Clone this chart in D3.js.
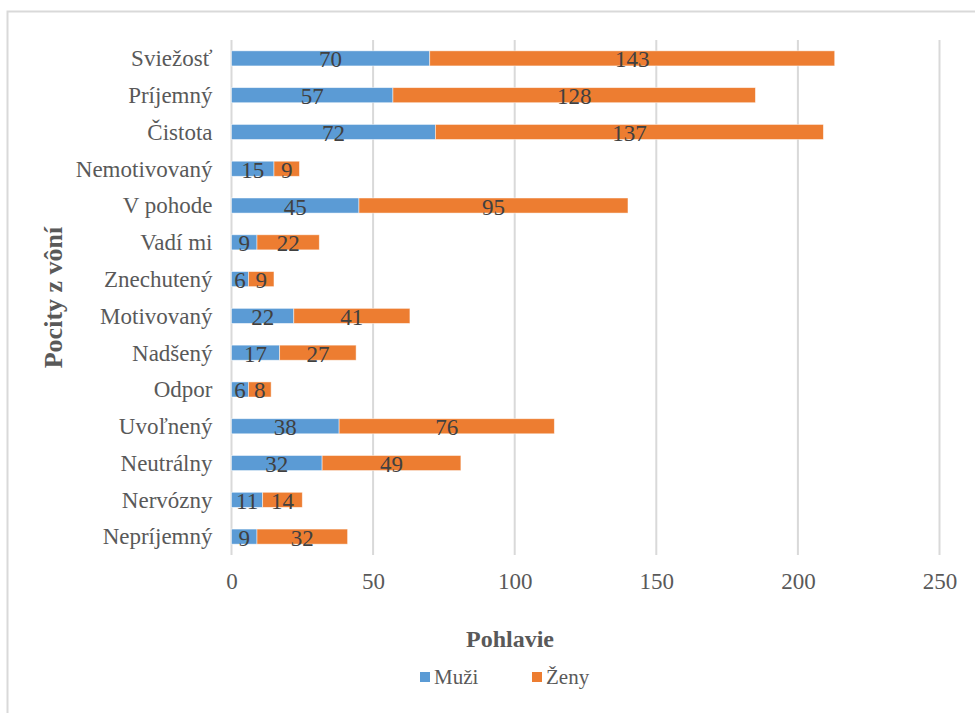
<!DOCTYPE html>
<html>
<head>
<meta charset="utf-8">
<script src="https://cdn.jsdelivr.net/npm/d3@7"></script>
<style>
  body { margin: 0; background: #fff; }
  svg text { font-family: "Liberation Serif", "Times New Roman", "DejaVu Serif", serif; }
</style>
</head>
<body>
<div id="chart"></div>
<script>
const categories = ["Sviežosť", "Príjemný", "Čistota", "Nemotivovaný", "V pohode", "Vadí mi", "Znechutený",
  "Motivovaný", "Nadšený", "Odpor", "Uvoľnený", "Neutrálny", "Nervózny", "Nepríjemný"];
const muzi = [70, 57, 72, 15, 45, 9, 6, 22, 17, 6, 38, 32, 11, 9];
const zeny = [143, 128, 137, 9, 95, 22, 9, 41, 27, 8, 76, 49, 14, 32];
const seriesNames = ["Muži", "Ženy"];
const colors = ["#5b9bd5", "#ed7d31"];
const xTicks = [0, 50, 100, 150, 200, 250];

const W = 975, H = 713;
const plot = { left: 231.5, right: 939.5, top: 40, bottom: 555 };
const fontSize = 23;

const svg = d3.select("#chart").append("svg")
  .attr("width", W)
  .attr("height", H);

// chart frame
svg.append("rect")
  .attr("x", 7.5).attr("y", 11.5)
  .attr("width", 1000).attr("height", 800)
  .attr("fill", "#fff")
  .attr("stroke", "#d9d9d9")
  .attr("stroke-width", 2);

const x = d3.scaleLinear().domain([0, 250]).range([plot.left, plot.right]);
const y = d3.scaleBand().domain(categories).range([plot.top, plot.bottom]).paddingInner(0.59).paddingOuter(0.295);

// gridlines
svg.append("g")
  .selectAll("line")
  .data(xTicks)
  .join("line")
  .attr("x1", d => x(d)).attr("x2", d => x(d))
  .attr("y1", plot.top).attr("y2", plot.bottom)
  .attr("stroke", "#d9d9d9")
  .attr("stroke-width", 2);

// x axis labels
const xAxis = svg.append("g")
  .attr("transform", `translate(0,${plot.bottom})`)
  .call(d3.axisBottom(x).tickValues(xTicks).tickSize(0).tickPadding(18))
  .attr("font-family", null)
  .attr("font-size", null);
xAxis.select(".domain").remove();
xAxis.selectAll("text")
  .style("font-size", fontSize + "px")
  .attr("fill", "#595959");

// y axis labels
const yAxis = svg.append("g")
  .attr("transform", `translate(${plot.left},0)`)
  .call(d3.axisLeft(y).tickSize(0).tickPadding(19))
  .attr("font-family", null)
  .attr("font-size", null);
yAxis.select(".domain").remove();
yAxis.selectAll("text")
  .style("font-size", fontSize + "px")
  .attr("dy", "0.34em")
  .attr("fill", "#595959");

const rows = categories.map((c, i) => ({ cat: c, vals: [muzi[i], zeny[i]] }));
const stacked = d3.stack().keys([0, 1]).value((d, k) => d.vals[k])(rows);

const layer = svg.append("g")
  .selectAll("g")
  .data(stacked)
  .join("g")
  .attr("fill", (d, i) => colors[i]);

layer.selectAll("rect")
  .data(d => d)
  .join("rect")
  .attr("x", d => x(d[0]))
  .attr("y", d => y(d.data.cat))
  .attr("width", d => x(d[1]) - x(d[0]))
  .attr("height", y.bandwidth())
  .attr("stroke", "#fff")
  .attr("stroke-opacity", 0.6)
  .attr("stroke-width", 0.8);

layer.selectAll("text")
  .data(d => d)
  .join("text")
  .attr("x", d => (x(d[0]) + x(d[1])) / 2)
  .attr("y", d => y(d.data.cat) + y.bandwidth() / 2 + 9)
  .attr("text-anchor", "middle")
  .attr("fill", "#404040")
  .style("font-size", fontSize + "px")
  .text(d => d[1] - d[0]);

// axis titles
svg.append("text")
  .attr("x", 510)
  .attr("y", 647)
  .attr("text-anchor", "middle")
  .attr("fill", "#595959")
  .style("font-size", "24px")
  .style("font-weight", "bold")
  .text("Pohlavie");

svg.append("text")
  .attr("transform", `translate(62,${(plot.top + plot.bottom) / 2}) rotate(-90)`)
  .attr("text-anchor", "middle")
  .attr("fill", "#595959")
  .style("font-size", "26px")
  .style("font-weight", "bold")
  .text("Pocity z vôní");

// legend
const legendX = [420, 532];
const legend = svg.append("g")
  .selectAll("g")
  .data(seriesNames)
  .join("g")
  .attr("transform", (d, i) => `translate(${legendX[i]},672)`);
legend.append("rect")
  .attr("width", 10).attr("height", 10)
  .attr("fill", (d, i) => colors[i]);
legend.append("text")
  .attr("x", 14).attr("y", 12)
  .attr("fill", "#595959")
  .style("font-size", "21px")
  .text(d => d);
</script>
</body>
</html>
